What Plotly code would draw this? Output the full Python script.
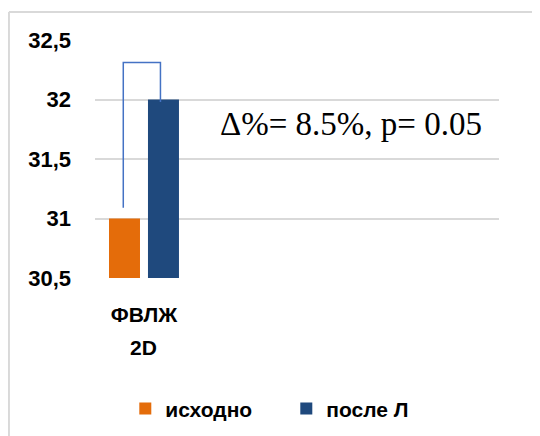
import plotly.graph_objects as go

categories = [0]
category_labels = ["ФВЛЖ"]
category_sublabels = ["2D"]
series_names = ["исходно", "после Л"]
series_values = [[31.0], [32.0]]
series_colors = ["#E46C0A", "#1F497D"]
y_ticks = [30.5, 31.0, 31.5, 32.0, 32.5]
y_ticktext = ["30,5", "31", "31,5", "32", "32,5"]
stat_text = "Δ%= 8.5%, p= 0.05"

BARGAP = 0.228
BARGROUPGAP = 0.205

fig = go.Figure()
for name, vals, col in zip(series_names, series_values, series_colors):
    fig.add_trace(go.Bar(x=categories, y=vals, name=name, marker_color=col,
                         marker_line_width=0))

# significance bracket derived from bar geometry
slot = (1 - BARGAP) / 2
xl = categories[0] - slot / 2 - 0.012
xr = categories[0] + slot / 2 - 0.03
v0 = series_values[0][0]
v1 = series_values[1][0]
top = max(v0, v1) + 0.31
fig.add_trace(go.Scatter(x=[xl, xl, xr, xr], y=[v0 + 0.09, top, top, v1 - 0.02],
                         mode="lines", line=dict(color="#4472C4", width=1.5),
                         showlegend=False, hoverinfo="skip"))

font_main = "Liberation Sans, Arial, sans-serif"
bold = dict(family=font_main, size=21, color="black", weight="bold")
bold_y = dict(family=font_main, size=22, color="black", weight="bold")

fig.update_layout(
    width=532, height=428,
    margin=dict(l=87, r=41, t=32, b=158, autoexpand=False),
    paper_bgcolor="white", plot_bgcolor="white",
    barmode="group", bargap=BARGAP, bargroupgap=BARGROUPGAP,
    font=dict(family=font_main, size=21, color="black"),
    showlegend=True,
    legend=dict(orientation="h", x=0.075, xanchor="left", y=-0.55, yanchor="middle",
                font=bold, itemwidth=30, traceorder="normal", entrywidth=116),
    xaxis=dict(range=[-0.485, 3.515], tickvals=categories, ticktext=category_labels,
               showgrid=False, zeroline=False, showline=False, ticks="",
               tickfont=bold, ticklabelstandoff=22, automargin=False),
    yaxis=dict(range=[30.5, 32.5], tickvals=y_ticks, ticktext=y_ticktext,
               showgrid=True, gridcolor="#d9d9d9", gridwidth=1.5,
               zeroline=False, showline=False, ticks="",
               tickfont=bold_y, ticklabelstandoff=23, automargin=False),
)

# chart frame (Excel-style chart area border)
fig.add_shape(type="line", xref="paper", yref="paper", x0=-0.213, x1=1.2, y0=1.1176, y1=1.1176,
              line=dict(color="#d9d9d9", width=2))
fig.add_shape(type="line", xref="paper", yref="paper", x0=-0.213, x1=-0.213, y0=1.1176, y1=-0.8,
              line=dict(color="#d9d9d9", width=2))

fig.add_annotation(x=categories[0], xref="x", y=-0.29, yref="paper", text=category_sublabels[0],
                   showarrow=False, xanchor="center", yanchor="middle", font=bold)

fig.add_annotation(x=0.304, xref="paper", y=0.645, yref="paper", text=stat_text,
                   showarrow=False, xanchor="left", yanchor="middle",
                   font=dict(family="Liberation Serif, Times New Roman, serif", size=33, color="black"))

fig.write_html("out.html")
